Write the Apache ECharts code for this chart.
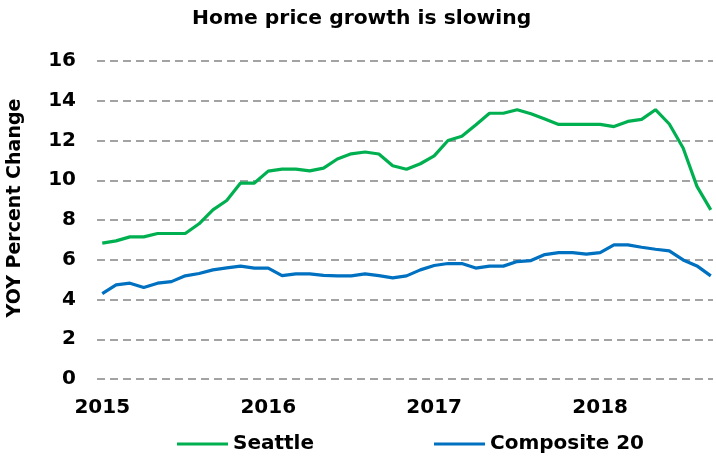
<!DOCTYPE html>
<html>
<head>
<meta charset="utf-8">
<script src="https://cdn.jsdelivr.net/npm/echarts@6/dist/echarts.min.js"></script>
<style>
html,body{margin:0;padding:0;background:#fff;}
#chart{width:716px;height:457px;}
</style>
</head>
<body>
<div id="chart"></div>
<script>
// Monthly, Jan 2015 .. Sep 2018
const months = [
 '2015-01','2015-02','2015-03','2015-04','2015-05','2015-06','2015-07','2015-08','2015-09','2015-10','2015-11','2015-12',
 '2016-01','2016-02','2016-03','2016-04','2016-05','2016-06','2016-07','2016-08','2016-09','2016-10','2016-11','2016-12',
 '2017-01','2017-02','2017-03','2017-04','2017-05','2017-06','2017-07','2017-08','2017-09','2017-10','2017-11','2017-12',
 '2018-01','2018-02','2018-03','2018-04','2018-05','2018-06','2018-07','2018-08','2018-09'
];
const seattle = [
 6.84, 6.95, 7.15, 7.15, 7.32, 7.32, 7.32, 7.81, 8.51, 8.98, 9.86, 9.86,
 10.46, 10.56, 10.56, 10.47, 10.61, 11.07, 11.33, 11.42, 11.32, 10.73, 10.55, 10.83,
 11.23, 12.0, 12.21, 12.78, 13.37, 13.37, 13.55, 13.35, 13.08, 12.81, 12.81, 12.81,
 12.81, 12.7, 12.96, 13.06, 13.55, 12.83, 11.62, 9.69, 8.51
];
const composite20 = [
 4.30, 4.74, 4.82, 4.60, 4.82, 4.90, 5.19, 5.31, 5.49, 5.59, 5.68, 5.58,
 5.58, 5.20, 5.29, 5.29, 5.21, 5.19, 5.19, 5.29, 5.20, 5.09, 5.19, 5.49,
 5.71, 5.81, 5.81, 5.58, 5.68, 5.68, 5.91, 5.96, 6.26, 6.36, 6.36, 6.28,
 6.36, 6.75, 6.75, 6.63, 6.53, 6.45, 5.99, 5.69, 5.19
];
const yearTicks = [0, 12, 24, 36];
const yearLabels = ['2015', '2016', '2017', '2018'];
const yTicks = [0, 2, 4, 6, 8, 10, 12, 14, 16];
const yAxisTitle = 'YOY Percent Change';

const FONT = 'DejaVu Sans';
const toPairs = arr => arr.map((v, i) => [i, v]);

const chart = echarts.init(document.getElementById('chart'), null, {renderer: 'canvas'});
chart.setOption({
  animation: false,
  backgroundColor: '#ffffff',
  title: {
    text: 'Home price growth is slowing',
    left: 187, top: 4,
    textStyle: {fontFamily: FONT, fontWeight: 'bold', fontSize: 20.3, color: '#000'}
  },
  legend: {
    left: 172, top: 429,
    itemWidth: 51, itemHeight: 3, itemGap: 120,
    icon: 'rect',
    textStyle: {fontFamily: FONT, fontWeight: 'bold', fontSize: 20, color: '#000'},
    data: ['Seattle', 'Composite 20']
  },
  graphic: [{
    type: 'text',
    x: 15, y: 208,
    rotation: Math.PI / 2,
    style: {
      text: yAxisTitle,
      fontFamily: FONT, fontWeight: 'bold', fontSize: 19, fill: '#000',
      align: 'center', verticalAlign: 'middle'
    }
  }],
  grid: {left: 97, right: 3, top: 61, bottom: 78, containLabel: false},
  xAxis: {
    type: 'value',
    min: -0.38, max: 44.16,
    axisLine: {show: false},
    axisTick: {show: false},
    splitLine: {show: false},
    axisLabel: {
      customValues: yearTicks,
      formatter: v => yearLabels[yearTicks.indexOf(Math.round(v))] || '',
      fontFamily: FONT, fontWeight: 'bold', fontSize: 20, color: '#000',
      margin: 19
    }
  },
  yAxis: {
    type: 'value',
    min: 0, max: 16, interval: 2,
    axisLine: {show: false},
    axisTick: {show: false},
    axisLabel: {
      customValues: yTicks,
      fontFamily: FONT, fontWeight: 'bold', fontSize: 20, color: '#000', margin: 21
    },
    splitLine: {show: true, lineStyle: {color: '#858585', width: 1.6, type: [8, 5]}}
  },
  series: [
    {
      name: 'Seattle', type: 'line', data: toPairs(seattle),
      showSymbol: false, symbol: 'none',
      lineStyle: {color: '#00b050', width: 3.2}, itemStyle: {color: '#00b050'}
    },
    {
      name: 'Composite 20', type: 'line', data: toPairs(composite20),
      showSymbol: false, symbol: 'none',
      lineStyle: {color: '#0070c0', width: 3.2}, itemStyle: {color: '#0070c0'}
    }
  ]
});
</script>
</body>
</html>
